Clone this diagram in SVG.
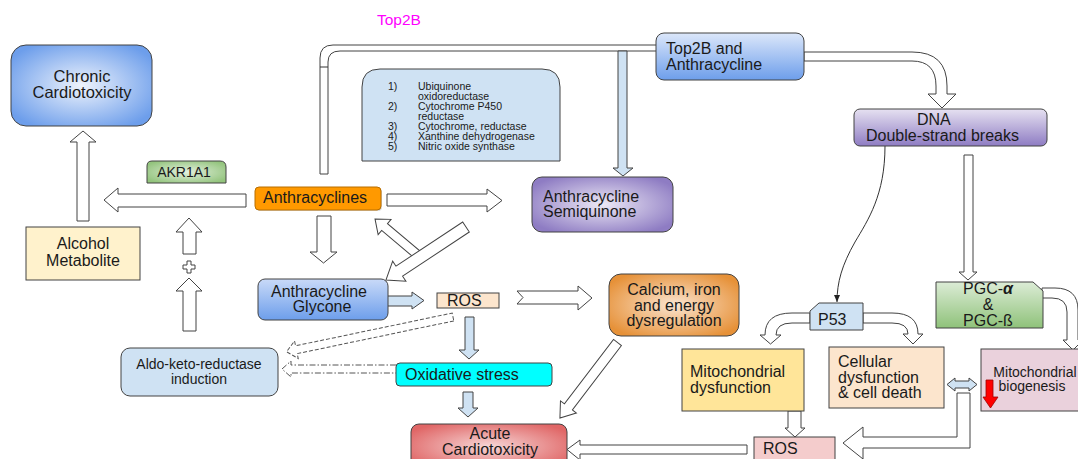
<svg xmlns="http://www.w3.org/2000/svg" width="1078" height="459" viewBox="0 0 1078 459">
<defs>
<radialGradient id="gChronic" cx="50%" cy="50%" r="60%"><stop offset="0" stop-color="#eef3fc"/><stop offset="1" stop-color="#6d9eeb"/></radialGradient>
<radialGradient id="gAkr" cx="50%" cy="50%" r="60%"><stop offset="0" stop-color="#e3f0de"/><stop offset="1" stop-color="#93c47d"/></radialGradient>
<linearGradient id="gBlueV" x1="0" y1="0" x2="0" y2="1"><stop offset="0" stop-color="#dce7fa"/><stop offset="1" stop-color="#6d9eeb"/></linearGradient>
<linearGradient id="gGly" x1="0" y1="0" x2="0" y2="1"><stop offset="0" stop-color="#c9daf8"/><stop offset="1" stop-color="#6d9eeb"/></linearGradient>
<radialGradient id="gSemi" cx="50%" cy="50%" r="60%"><stop offset="0" stop-color="#ece8f5"/><stop offset="1" stop-color="#8e7cc3"/></radialGradient>
<linearGradient id="gDna" x1="0" y1="0" x2="0" y2="1"><stop offset="0" stop-color="#e6e1f1"/><stop offset="1" stop-color="#8e7cc3"/></linearGradient>
<radialGradient id="gCal" cx="50%" cy="50%" r="60%"><stop offset="0" stop-color="#fbe5d1"/><stop offset="1" stop-color="#e69138"/></radialGradient>
<radialGradient id="gAcute" cx="50%" cy="50%" r="60%"><stop offset="0" stop-color="#f6d6d6"/><stop offset="1" stop-color="#e06666"/></radialGradient>
<linearGradient id="gPgc" x1="0" y1="0" x2="0" y2="1"><stop offset="0" stop-color="#dcecd6"/><stop offset="1" stop-color="#8fc27a"/></linearGradient>
<marker id="mArr" markerWidth="8" markerHeight="8" refX="7" refY="4" orient="auto" markerUnits="userSpaceOnUse"><path d="M0,1 L7,4 L0,7 Z" fill="#222"/></marker>
<style>
text{font-family:'Liberation Sans',Arial,sans-serif;fill:#1a1a1a;font-size:16px}
.box{stroke:#434343;stroke-width:1}
.hol{fill:#fff;stroke:#434343;stroke-width:1;stroke-linejoin:miter}
.blu{fill:#cfe2f3;stroke:#434343;stroke-width:1}
.dash{fill:#fff;stroke:#555;stroke-width:1;stroke-dasharray:4,2}
.dashdot{fill:#fff;stroke:#555;stroke-width:1;stroke-dasharray:6,2,1.5,2}
.thin{fill:none;stroke:#333;stroke-width:1}
.mid{text-anchor:middle}
.sm{font-size:14px}
.xs{font-size:10.5px}
</style>
</defs>

<g id="connectors">
<!-- Top2B connector from Anthracyclines to Top2B box -->
<path class="hol" d="M320,174 V58 Q320,45 333,45 H658 V51 H340 Q328,51 328,62 V174 Z"/>
<line class="thin" x1="320" y1="67" x2="328" y2="67"/>
<!-- Top2B line to Semiquinone -->
<path class="blu" d="M618,51 H627 V168 H633 L623,176 L613,168 H618 Z"/>
<!-- Top2B box to DNA -->
<path class="hol" d="M804,52 H912 Q947,52 947,86 V94 H956 L942,108 L928,94 H936 V86 Q936,61 912,61 H804 Z"/>
<!-- Anthracyclines to left (Chronic path) -->
<path class="hol" d="M246,194 V207 H118 V212 L104,200 L118,188 V194 Z"/>
<!-- Alcohol up to Chronic -->
<path class="hol" d="M77,221 V142 H70 L83,131 L96,142 H89 V221 Z"/>
<!-- Aldo up arrows with plus -->
<path class="hol" d="M183,254 V232 H176 L189,218 L202,232 H196 V254 Z"/>
<path class="hol" d="M187,261 h4 v4 h4 v4 h-4 v4 h-4 v-4 h-4 v-4 h4 Z"/>
<path class="hol" d="M183,331 V291 H176 L189,278 L202,291 H196 V331 Z"/>
<!-- Anthracyclines to Semiquinone -->
<path class="hol" d="M387,194 H487 V189 L502,200.5 L487,212 V206 H387 Z"/>
<!-- Anthracyclines down to Glycone -->
<path class="hol" d="M317,216 H331 V252 H337 L323.5,263 L310,252 H317 Z"/>
<!-- Glycone up-left to Anthracyclines -->
<path class="hol" transform="translate(419,256) rotate(-139.9)" d="M0,-4.5 H45 V-10 L57.5,0 L45,10 V4.5 H0 Z"/>
<!-- Semiquinone down-left to Glycone -->
<path class="hol" transform="translate(466,227) rotate(146.5)" d="M0,-6 H80 V-12 L96,0 L80,12 V6 H0 Z"/>
<!-- Glycone to ROS -->
<path class="blu" d="M387,296 H412 V292 L424,300.5 L412,309 V306 H387 Z"/>
<!-- ROS to Calcium (notched) -->
<path class="hol" d="M517,291 H578 V286 L592,298 L578,310 V304 H517 L523,297.5 Z"/>
<!-- ROS down to Oxidative -->
<path class="blu" d="M465,317 H474 V350 H479 L469,359 L459,350 H465 Z"/>
<!-- Oxidative down to Acute -->
<path class="blu" d="M463,392 H473 V408 H478 L468,417 L458,408 H463 Z"/>
<!-- ROS dashed to Aldo -->
<path class="dash" transform="translate(453,317) rotate(168.2)" d="M0,-4 H160 V-9 L170,0 L160,9 V4 H0 Z"/>
<!-- Oxidative dash-dot to Aldo -->
<path class="dashdot" d="M396,365 H291 V361 L282,369 L291,377 V373 H396"/>
<!-- Calcium to Acute -->
<path class="hol" transform="translate(617.5,342.5) rotate(127.3)" d="M0,-5 H81 V-10 L95,0 L81,10 V5 H0 Z"/>
<!-- DNA to P53 -->
<path class="thin" d="M885,146 C885,195 868,220 855,242 C842,265 837,282 837,302" marker-end="url(#mArr)"/>
<!-- DNA to PGC -->
<path class="hol" d="M964,155 H973 V272 H977 L968,280 L959,272 H964 Z"/>
<!-- P53 to Mito dysfunction -->
<path class="hol" d="M810,313 H792 Q765,313 765,335 H760 L770.5,344 L781,335 H776 Q776,323 792,323 H810 Z"/>
<!-- P53 to Cellular -->
<path class="hol" d="M863,313 H892 Q918,313 918,334 H923 L913,344 L903,334 H908 Q908,323 892,323 H863 Z"/>
<!-- PGC to Mito biogenesis -->
<path class="hol" d="M1042,288 H1055 Q1078,288 1078,310 V340 H1083 L1073,350 L1063,340 H1067 V312 Q1067,298 1052,298 H1042 Z"/>
<!-- Mito dysfunction to ROS -->
<path class="hol" d="M788,411 H801 V428 H805 L795,437 L785,428 H788 Z"/>
<!-- ROS bottom to Acute -->
<path class="hol" d="M747,445 V454 H580 V460 L567,449.5 L580,440 V445 Z"/>
<!-- Cellular/biogenesis to ROS bottom -->
<path class="hol" d="M957,393 H970 V448 H863 V459 L843,443 L863,427 V437 H957 Z"/>
<!-- double arrow Cellular <-> biogenesis -->
<path class="blu" d="M947,384.5 L955,378 V381 H969 V378 L977,384.5 L969,391 V388 H955 V391 Z"/>
</g>

<text x="377" y="25" style="fill:#ff00ff;font-size:15.5px">Top2B</text>

<g id="chronic">
<rect class="box" x="11" y="45" width="141" height="81" rx="15" fill="url(#gChronic)"/>
<text class="mid" x="82" y="82" style="font-size:16.5px">Chronic</text>
<text class="mid" x="82" y="98" style="font-size:16.5px">Cardiotoxicity</text>
</g>

<g id="akr1a1">
<path class="box" d="M147,183 V166 Q147,161 152,161 H220 Q226,161 226,167 V183 Z" fill="url(#gAkr)"/>
<text class="mid sm" x="184" y="177">AKR1A1</text>
</g>

<g id="anthracyclines">
<rect x="256" y="188" width="126" height="23" rx="4" fill="#000" opacity="0.15"/>
<rect x="255" y="187" width="126" height="23" rx="4" fill="#ff9900" stroke="#b86e00" stroke-width="1"/>
<text x="263" y="203">Anthracyclines</text>
</g>

<g id="alcohol">
<rect class="box" x="26" y="227" width="114" height="53" fill="#fff2cc"/>
<text class="mid" x="83" y="249">Alcohol</text>
<text class="mid" x="83" y="266">Metabolite</text>
</g>

<g id="enzymes">
<path class="box" d="M362,161 V87 Q362,69 380,69 H542 Q560,69 560,87 V161 Z" fill="#cfe2f3"/>
<g class="xs">
<text x="388" y="90" class="xs">1)</text><text x="418" y="90" class="xs">Ubiquinone</text>
<text x="418" y="100" class="xs">oxidoreductase</text>
<text x="388" y="110" class="xs">2)</text><text x="418" y="110" class="xs">Cytochrome P450</text>
<text x="418" y="120" class="xs">reductase</text>
<text x="388" y="130" class="xs">3)</text><text x="418" y="130" class="xs">Cytochrome, reductase</text>
<text x="388" y="140" class="xs">4)</text><text x="418" y="140" class="xs">Xanthine dehydrogenase</text>
<text x="388" y="150" class="xs">5)</text><text x="418" y="150" class="xs">Nitric oxide synthase</text>
</g>
</g>

<g id="top2b-anthracycline">
<rect class="box" x="656" y="33" width="148" height="47" rx="8" fill="url(#gBlueV)"/>
<text x="666" y="54">Top2B and</text>
<text x="666" y="70">Anthracycline</text>
</g>

<g id="semiquinone">
<rect class="box" x="532" y="177" width="141" height="55" rx="10" fill="url(#gSemi)"/>
<text x="543" y="202">Anthracycline</text>
<text x="543" y="217">Semiquinone</text>
</g>

<g id="dna">
<rect class="box" x="854" y="109" width="193" height="37" rx="6" fill="url(#gDna)"/>
<text x="917" y="125">DNA</text>
<text x="866" y="141">Double-strand breaks</text>
</g>

<g id="glycone">
<rect class="box" x="258" y="279" width="130" height="41" rx="7" fill="url(#gGly)"/>
<text class="mid" x="319" y="297">Anthracycline</text>
<text class="mid" x="322" y="312">Glycone</text>
</g>

<g id="ros-mid">
<rect class="box" x="437" y="293" width="62" height="15" fill="#fce5cd"/>
<text x="447" y="306">ROS</text>
</g>

<g id="calcium">
<rect class="box" x="609" y="274" width="130" height="62" rx="12" fill="url(#gCal)"/>
<text class="mid" x="674" y="295">Calcium, iron</text>
<text class="mid" x="674" y="311">and energy</text>
<text class="mid" x="674" y="326">dysregulation</text>
</g>

<g id="aldo">
<rect class="box" x="121" y="348" width="157" height="48" rx="9" fill="#cfe2f3"/>
<text class="mid sm" x="199" y="369">Aldo-keto-reductase</text>
<text class="mid sm" x="199" y="384">induction</text>
</g>

<g id="oxidative">
<rect class="box" x="396" y="363" width="156" height="23" rx="4" fill="#00ffff"/>
<text x="405" y="380">Oxidative stress</text>
</g>

<g id="acute">
<rect class="box" x="411" y="424" width="156" height="45" rx="8" fill="url(#gAcute)"/>
<text class="mid" x="490" y="439">Acute</text>
<text class="mid" x="490" y="455">Cardiotoxicity</text>
</g>

<g id="p53">
<path class="box" d="M819,303 H863 V330 H810 V311 Z" fill="#cfe2f3"/>
<text x="818" y="325">P53</text>
</g>

<g id="pgc">
<path class="box" d="M936,282 H1033 L1043,291 V328 H936 Z" fill="url(#gPgc)"/>
<text class="mid" x="988" y="294">PGC-<tspan style="font-weight:bold;font-style:italic">α</tspan></text>
<text class="mid" x="988" y="310">&amp;</text>
<text class="mid" x="988" y="326">PGC-ß</text>
</g>

<g id="mito-dysfunction">
<rect class="box" x="682" y="349" width="122" height="62" fill="#ffe599"/>
<text x="690" y="377">Mitochondrial</text>
<text x="690" y="393">dysfunction</text>
</g>

<g id="cellular">
<rect class="box" x="829" y="347" width="115" height="61" fill="#fce5cd"/>
<text x="838" y="367">Cellular</text>
<text x="838" y="383">dysfunction</text>
<text x="838" y="398">&amp; cell death</text>
</g>

<g id="mito-biogenesis">
<rect class="box" x="981" y="349" width="110" height="62" fill="#ead1dc"/>
<text class="mid sm" x="1035" y="377">Mitochondrial</text>
<text class="mid sm" x="1032" y="391">biogenesis</text>
<path d="M986,380 H993 V397 H998 L990.5,408 L983,397 H986 Z" fill="#ff0000" stroke="#a00000" stroke-width="0.8"/>
</g>

<g id="ros-bottom">
<rect class="box" x="754" y="437" width="81" height="30" fill="#f4cccc"/>
<text x="763" y="454">ROS</text>
</g>
</svg>
